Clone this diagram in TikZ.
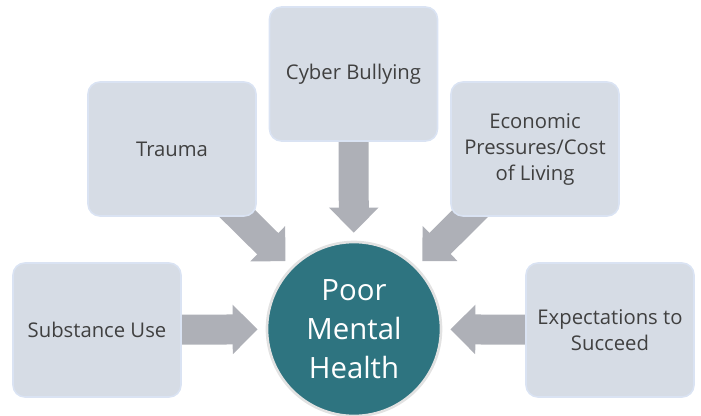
\documentclass[tikz,border=0pt]{standalone}
\usepackage{fontspec}
\setmainfont{Open Sans}
\usetikzlibrary{arrows.meta,backgrounds}
\definecolor{boxfill}{HTML}{D6DCE5}
\definecolor{boxline}{HTML}{DAE3F3}
\definecolor{txtgray}{HTML}{404040}
\definecolor{arrowgray}{HTML}{AEB0B7}
\definecolor{circfill}{HTML}{2E7480}
\definecolor{circline}{HTML}{E2E2E2}
\begin{document}
\begin{tikzpicture}[x=0.75pt,y=-0.75pt,
  factor/.style={draw=boxline, line width=1.2pt, fill=boxfill, rounded corners=9pt,
    minimum width=126pt, minimum height=100.5pt, align=center, text=txtgray,
    font=\fontsize{15.2}{19.5}\selectfont, inner sep=2pt},
  centre/.style={circle, draw=circline, line width=2pt, fill=circfill,
    minimum size=130.5pt, align=center, text=white,
    font=\fontsize{22}{29.25}\selectfont, inner sep=0pt},
  feed/.style={draw=arrowgray, line width=22.5pt, shorten >=6pt,
    -{Triangle[width=36pt,length=18.75pt]}}]
\useasboundingbox (0,0) rectangle (701,415);
\node[centre] (circ) at (354,329) {Poor\\Mental\\Health};
\node[factor] (trauma) at (172,149) {Trauma};
\node[factor] (cyber) at (353.5,74) {Cyber Bullying};
\node[factor] (econ) at (535,149) {Economic\\Pressures/Cost\\of Living};
\node[factor] (subst) at (97,330) {Substance Use};
\node[factor] (expect) at (610,330) {Expectations to\\Succeed};
\begin{pgfonlayer}{background}
\draw[feed] (trauma.center) -- (circ);
\draw[feed] (cyber.center) -- (circ);
\draw[feed] (econ.center) -- (circ);
\draw[feed] (subst.center) -- (circ);
\draw[feed] (expect.center) -- (circ);
\end{pgfonlayer}
\end{tikzpicture}
\end{document}
